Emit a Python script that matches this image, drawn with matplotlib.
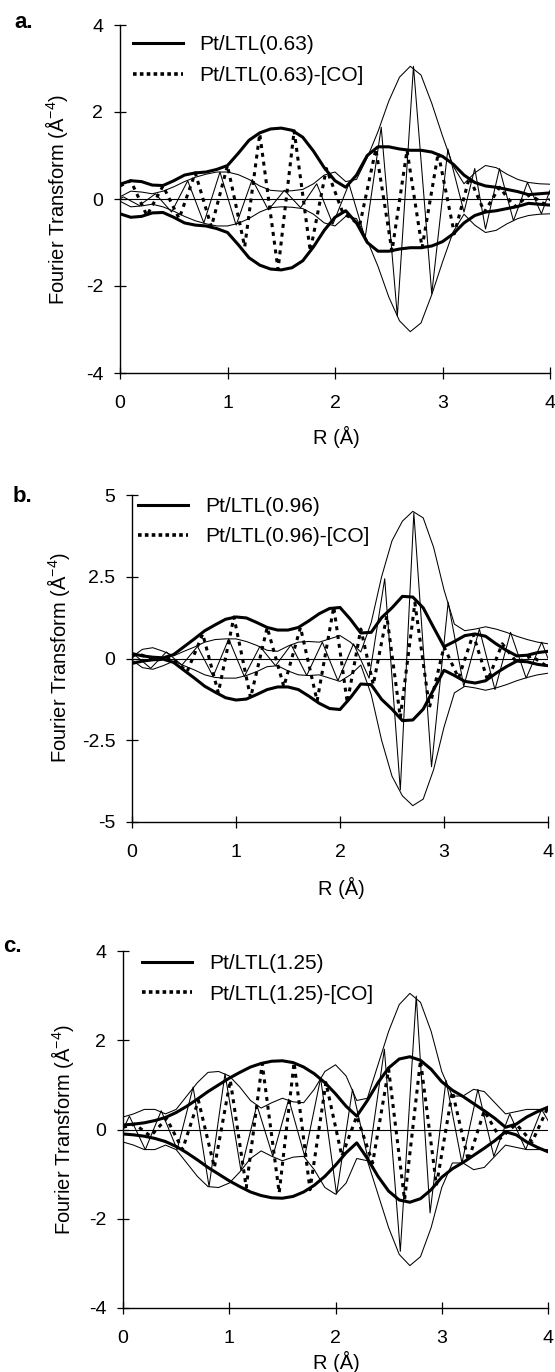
import matplotlib
matplotlib.use('Agg')
import matplotlib.pyplot as plt
from matplotlib.lines import Line2D

plt.rcParams['font.family'] = ['Liberation Sans', 'DejaVu Sans']
plt.rcParams['mathtext.fontset'] = 'custom'
plt.rcParams['mathtext.rm'] = 'Liberation Sans'
plt.rcParams['mathtext.default'] = 'regular'
plt.rcParams['axes.unicode_minus'] = False

# ---------------- data ----------------
R_ENV = [0.0, 0.1, 0.2, 0.3, 0.4, 0.5, 0.6, 0.7, 0.8, 0.9,
         1.0, 1.1, 1.2, 1.3, 1.4, 1.5, 1.6, 1.7, 1.8, 1.9,
         2.0, 2.1, 2.2, 2.3, 2.4, 2.5, 2.6, 2.7, 2.8, 2.9,
         3.0, 3.1, 3.2, 3.3, 3.4, 3.5, 3.6, 3.7, 3.8, 3.9, 4.0]

# panel a
A_MAG_THICK = [0.34, 0.42, 0.40, 0.32, 0.31, 0.42, 0.55, 0.60, 0.62, 0.68,
               0.77, 1.05, 1.35, 1.52, 1.61, 1.63, 1.58, 1.42, 1.10, 0.72,
               0.42, 0.27, 0.55, 1.00, 1.20, 1.20, 1.15, 1.12, 1.12, 1.08,
               0.98, 0.80, 0.55, 0.38, 0.30, 0.27, 0.22, 0.17, 0.10, 0.12, 0.14]
A_MAG_THIN = [0.05, 0.18, 0.16, 0.12, 0.18, 0.28, 0.40, 0.50, 0.57, 0.62,
              0.62, 0.56, 0.45, 0.30, 0.20, 0.18, 0.19, 0.22, 0.35, 0.55,
              0.62, 0.40, 0.45, 0.95, 1.55, 2.25, 2.80, 3.05, 2.85, 2.20,
              1.45, 0.75, 0.35, 0.60, 0.77, 0.72, 0.57, 0.45, 0.38, 0.35, 0.34]
A_IM_THIN_R = [0.0, 0.03, 0.18, 0.33, 0.48, 0.63, 0.78, 0.93, 1.08, 1.23, 1.38,
               1.53, 1.68, 1.83, 1.98, 2.13, 2.28, 2.43, 2.58, 2.73, 2.90,
               3.05, 3.20, 3.30, 3.40, 3.53, 3.66, 3.79, 3.92, 4.0]
A_IM_THIN = [0.0, 0.05, -0.15, 0.12, -0.30, 0.42, -0.55, 0.62, -0.60, 0.45, -0.25,
             0.20, -0.20, 0.35, -0.58, 0.35, -0.90, 1.65, -2.69, 3.05, -2.18,
             1.15, -0.30, 0.70, -0.69, 0.70, -0.50, 0.38, -0.34, 0.20]
A_IM_DOT_R = [0.0, 0.10, 0.25, 0.40, 0.55, 0.70, 0.85, 1.00, 1.16, 1.30, 1.47,
              1.62, 1.77, 1.92, 2.07, 2.23, 2.38, 2.53, 2.67, 2.81, 2.96,
              3.11, 3.25, 3.39, 3.53, 3.67, 3.81, 3.95, 4.0]
A_IM_DOT = [0.30, 0.42, -0.38, 0.30, -0.45, 0.60, -0.64, 0.77, -1.10, 1.50, -1.62,
            1.57, -1.20, 0.70, -0.30, -0.60, 1.15, -1.20, 1.12, -1.12, 1.06,
            -0.80, 0.50, -0.30, 0.27, -0.18, 0.10, -0.12, 0.0]

# panel b
B_MAG_THICK = [0.15, 0.08, 0.04, 0.02, 0.12, 0.36, 0.60, 0.85, 1.03, 1.20,
               1.27, 1.24, 1.10, 0.95, 0.87, 0.87, 0.95, 1.15, 1.37, 1.53,
               1.56, 1.20, 0.78, 0.80, 1.25, 1.55, 1.90, 1.88, 1.55, 0.95,
               0.36, 0.52, 0.70, 0.75, 0.68, 0.45, 0.25, 0.08, 0.10, 0.18, 0.22]
B_MAG_THIN = [0.05, 0.28, 0.33, 0.22, 0.08, 0.22, 0.35, 0.50, 0.58, 0.60,
              0.60, 0.52, 0.40, 0.25, 0.22, 0.38, 0.50, 0.52, 0.50, 0.60,
              0.70, 0.50, 0.20, 1.10, 2.50, 3.60, 4.20, 4.50, 4.30, 3.40,
              2.10, 1.05, 0.85, 0.90, 0.97, 0.90, 0.80, 0.68, 0.58, 0.50, 0.45]
B_IM_THIN_R = [0.0, 0.03, 0.18, 0.33, 0.48, 0.63, 0.78, 0.93, 1.08, 1.23, 1.38,
               1.53, 1.68, 1.83, 1.98, 2.13, 2.28, 2.43, 2.58, 2.71, 2.88,
               3.04, 3.19, 3.34, 3.49, 3.64, 3.79, 3.94, 4.0]
B_IM_THIN = [0.0, 0.10, -0.30, 0.20, -0.20, 0.37, -0.55, 0.60, -0.55, 0.37, -0.22,
             0.42, -0.52, 0.50, -0.68, 0.45, -0.60, 2.44, -4.02, 4.45, -3.31,
             1.72, -0.85, 0.90, -0.95, 0.80, -0.60, 0.50, 0.0]
B_IM_DOT_R = [0.0, 0.08, 0.23, 0.38, 0.53, 0.68, 0.83, 0.98, 1.14, 1.30, 1.46,
              1.62, 1.78, 1.94, 2.07, 2.20, 2.32, 2.45, 2.58, 2.72, 2.86,
              3.00, 3.14, 3.28, 3.42, 3.56, 3.70, 3.84, 3.98]
B_IM_DOT = [0.10, 0.12, -0.05, 0.02, -0.40, 0.75, -1.05, 1.27, -1.20, 0.95, -0.86,
            0.95, -1.30, 1.58, -1.35, 0.90, -0.80, 1.30, -1.80, 1.70, -1.50,
            0.36, -0.60, 0.74, -0.67, 0.45, -0.12, 0.08, -0.22]

# panel c
C_MAG_THICK = [0.10, 0.12, 0.15, 0.20, 0.27, 0.38, 0.52, 0.68, 0.85, 1.00,
               1.15, 1.28, 1.40, 1.48, 1.53, 1.54, 1.50, 1.40, 1.25, 1.05,
               0.80, 0.52, 0.30, 0.65, 1.05, 1.38, 1.58, 1.63, 1.55, 1.35,
               1.07, 0.88, 0.74, 0.58, 0.42, 0.25, 0.05, 0.12, 0.28, 0.40, 0.50]
C_MAG_THIN = [0.28, 0.35, 0.45, 0.45, 0.35, 0.45, 0.75, 1.05, 1.28, 1.30,
              1.20, 0.95, 0.65, 0.48, 0.60, 0.70, 0.62, 0.60, 0.90, 1.30,
              1.45, 1.20, 0.65, 0.70, 1.45, 2.20, 2.80, 3.05, 2.85, 2.20,
              1.30, 0.75, 0.75, 0.90, 0.85, 0.60, 0.35, 0.40, 0.45, 0.45, 0.45]
C_IM_THIN_R = [0.0, 0.06, 0.21, 0.36, 0.51, 0.66, 0.81, 0.96, 1.11, 1.26, 1.41,
               1.56, 1.71, 1.86, 2.01, 2.16, 2.31, 2.46, 2.61, 2.76, 2.89,
               3.04, 3.19, 3.34, 3.49, 3.64, 3.79, 3.94, 4.0]
C_IM_THIN = [0.0, 0.30, -0.45, 0.42, -0.45, 0.95, -1.28, 1.25, -0.92, 0.55, -0.60,
             0.68, -0.60, 1.15, -1.45, 0.90, -0.70, 1.80, -2.73, 2.99, -1.87,
             1.10, -0.75, 0.90, -0.60, 0.35, -0.45, 0.45, 0.20]
C_IM_DOT_R = [0.0, 0.11, 0.26, 0.41, 0.56, 0.71, 0.86, 1.01, 1.16, 1.31, 1.47,
              1.61, 1.76, 1.91, 2.06, 2.20, 2.35, 2.50, 2.65, 2.80, 2.95,
              3.10, 3.25, 3.40, 3.55, 3.70, 3.85, 4.0]
C_IM_DOT = [0.05, 0.12, -0.15, 0.25, -0.45, 0.65, -0.85, 1.10, -1.30, 1.48, -1.42,
            1.50, -1.35, 1.05, -0.60, 0.30, -0.75, 1.35, -1.58, 1.55, -1.25,
            0.85, -0.70, 0.42, -0.20, 0.12, -0.28, 0.50]

LABELS = [("Pt/LTL(0.63)", "Pt/LTL(0.63)-[CO]"),
          ("Pt/LTL(0.96)", "Pt/LTL(0.96)-[CO]"),
          ("Pt/LTL(1.25)", "Pt/LTL(1.25)-[CO]")]
PANEL_TAGS = ["a.", "b.", "c."]
X_TICKS = [0, 1, 2, 3, 4]
Y_TICKS_AC = [-4, -2, 0, 2, 4]
Y_TICKS_B = [-5, -2.5, 0, 2.5, 5]
Y_TICKLABELS_B = ["-5", "-2.5", "0", "2.5", "5"]

# ---------------- figure ----------------
W, H = 555, 1372
fig = plt.figure(figsize=(W / 100, H / 100), dpi=100)


def add_ax(l, r, t, b):
    return fig.add_axes([l / W, 1 - b / H, (r - l) / W, (b - t) / H])


panels = [
    dict(box=(120, 550, 25, 373), ylim=4, yt=Y_TICKS_AC, ytl=None,
         thick=A_MAG_THICK, thin=A_MAG_THIN, tr=A_IM_THIN_R, ti=A_IM_THIN,
         dr=A_IM_DOT_R, di=A_IM_DOT, tag=(24, 22), ylab=(57, 200), xlab=(336, 437),
         leg=(0.0, 1.006)),
    dict(box=(132, 548, 495, 822), ylim=5, yt=Y_TICKS_B, ytl=Y_TICKLABELS_B,
         thick=B_MAG_THICK, thin=B_MAG_THIN, tr=B_IM_THIN_R, ti=B_IM_THIN,
         dr=B_IM_DOT_R, di=B_IM_DOT, tag=(22, 496), ylab=(58, 658), xlab=(341, 888),
         leg=(-0.015, 1.032)),
    dict(box=(123, 548, 951, 1308), ylim=4, yt=Y_TICKS_AC, ytl=None,
         thick=C_MAG_THICK, thin=C_MAG_THIN, tr=C_IM_THIN_R, ti=C_IM_THIN,
         dr=C_IM_DOT_R, di=C_IM_DOT, tag=(12, 946), ylab=(63, 1130), xlab=(336, 1362),
         leg=(0.016, 1.026)),
]

THICK_LW = 2.2
THIN_LW = 0.75

for i, p in enumerate(panels):
    ax = add_ax(*p['box'])
    ax.axhline(0, color='black', lw=0.8, zorder=1)
    ax.plot(R_ENV, p['thin'], color='black', lw=THIN_LW, zorder=2)
    ax.plot(R_ENV, [-v for v in p['thin']], color='black', lw=THIN_LW, zorder=2)
    ax.plot(p['tr'], p['ti'], color='black', lw=THIN_LW, zorder=2)
    ax.plot(p['dr'], p['di'], color='black', lw=THICK_LW, dashes=(1.3, 1.6), zorder=3)
    ax.plot(R_ENV, p['thick'], color='black', lw=THICK_LW, zorder=4)
    ax.plot(R_ENV, [-v for v in p['thick']], color='black', lw=THICK_LW, zorder=4)

    ax.set_xlim(0, 4)
    ax.set_ylim(-p['ylim'], p['ylim'])
    ax.set_xticks(X_TICKS)
    ax.set_yticks(p['yt'])
    if p['ytl'] is not None:
        ax.set_yticklabels(p['ytl'])
    for s in ('top', 'right'):
        ax.spines[s].set_visible(False)
    for s in ('left', 'bottom'):
        ax.spines[s].set_linewidth(1.0)
    ax.tick_params(direction='inout', length=8, width=0.9, labelsize=14)
    ax.tick_params(axis='x', pad=12)
    ax.tick_params(axis='y', pad=8)

    handles = [Line2D([], [], color='black', lw=THICK_LW),
               Line2D([], [], color='black', lw=2.6, linestyle=(0, (1, 0.9)))]
    ax.legend(handles, LABELS[i], loc='upper left', bbox_to_anchor=p['leg'],
              frameon=False, fontsize=15, handlelength=2.4, handletextpad=0.8,
              labelspacing=0.55, borderaxespad=0.2)

    fig.text(p['tag'][0] / W, 1 - p['tag'][1] / H, PANEL_TAGS[i], fontsize=16,
             fontweight='bold', ha='center', va='center')
    fig.text(p['ylab'][0] / W, 1 - p['ylab'][1] / H, 'Fourier Transform (Å$^{-4}$)',
             rotation=90, fontsize=14.5, ha='center', va='center')
    fig.text(p['xlab'][0] / W, 1 - p['xlab'][1] / H, 'R (Å)', fontsize=14.5,
             ha='center', va='center')

fig.savefig('out.png', dpi=100)
